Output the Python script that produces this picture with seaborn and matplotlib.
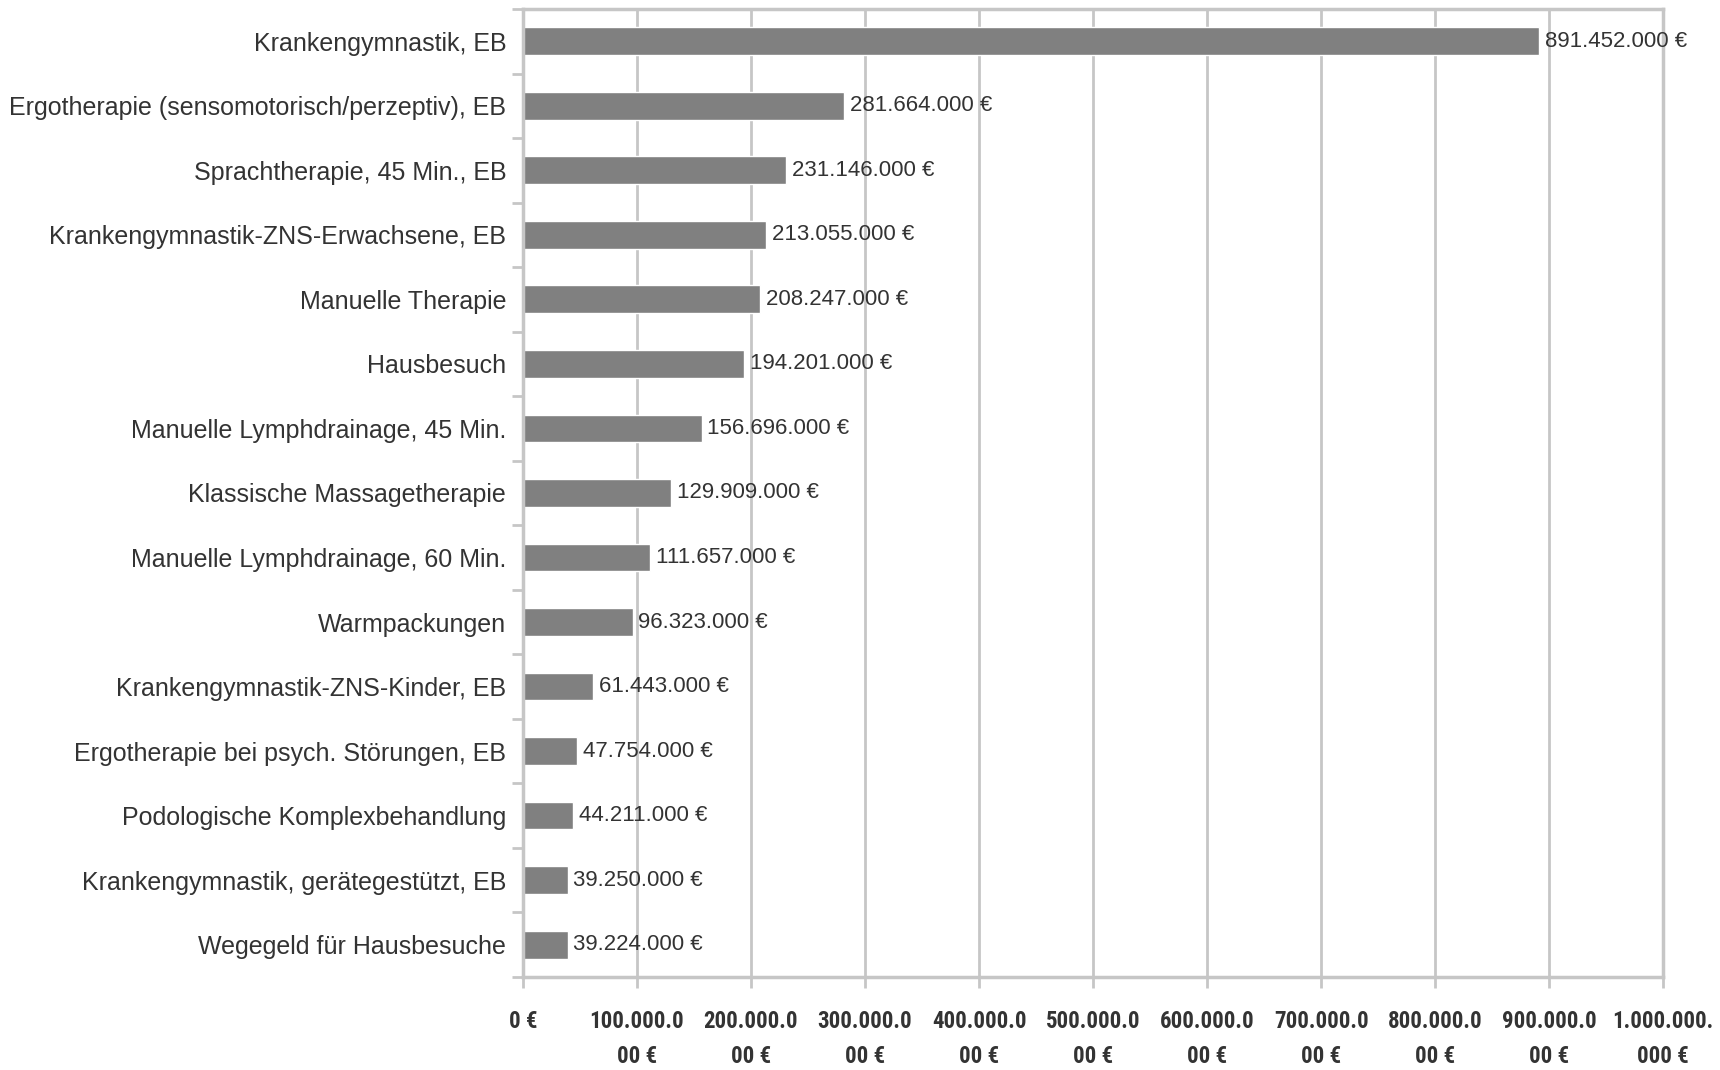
import matplotlib
matplotlib.use("Agg")
import matplotlib.pyplot as plt
import numpy as np
import pandas as pd
import seaborn as sns
from matplotlib import font_manager
from matplotlib.ticker import FixedLocator

categories = [
    "Krankengymnastik, EB",
    "Ergotherapie (sensomotorisch/perzeptiv), EB",
    "Sprachtherapie, 45 Min., EB",
    "Krankengymnastik-ZNS-Erwachsene, EB",
    "Manuelle Therapie",
    "Hausbesuch",
    "Manuelle Lymphdrainage, 45 Min.",
    "Klassische Massagetherapie",
    "Manuelle Lymphdrainage, 60 Min.",
    "Warmpackungen",
    "Krankengymnastik-ZNS-Kinder, EB",
    "Ergotherapie bei psych. Störungen, EB",
    "Podologische Komplexbehandlung",
    "Krankengymnastik, gerätegestützt, EB",
    "Wegegeld für Hausbesuche",
]
values = [891452000, 281664000, 231146000, 213055000, 208247000, 194201000,
          156696000, 129909000, 111657000, 96323000, 61443000, 47754000,
          44211000, 39250000, 39224000]
x_ticks = [0, 100e6, 200e6, 300e6, 400e6, 500e6, 600e6, 700e6, 800e6, 900e6, 1000e6]
x_tick_labels = ["0 €", "100.000.0\n00 €", "200.000.0\n00 €", "300.000.0\n00 €",
                 "400.000.0\n00 €", "500.000.0\n00 €", "600.000.0\n00 €",
                 "700.000.0\n00 €", "800.000.0\n00 €", "900.000.0\n00 €",
                 "1.000.000.\n000 €"]


def euro(v):
    return f"{v:,}".replace(",", ".") + " €"


sns.set_theme(style="white")
plt.rcParams["font.family"] = ["Liberation Sans", "DejaVu Sans"]

# narrow face for the axis numbers, if one is installed
installed = {f.name for f in font_manager.fontManager.ttflist}
narrow = None
for cand in ["Liberation Sans Narrow", "Roboto Condensed", "Open Sans Condensed"]:
    if cand in installed:
        narrow = cand
        break
if narrow:
    tick_font = dict(family=[narrow, "DejaVu Sans"], size=16.5)
else:
    tick_font = dict(family=["DejaVu Sans", "Liberation Sans"], stretch="condensed", size=15.5)

df = pd.DataFrame({"Leistung": categories, "Ausgaben": values})

grid_c = "#c6c6c6"
text_c = "#333333"

fig = plt.figure(figsize=(17.2, 10.7), dpi=100)
ax = fig.add_axes([0.304, 0.087, 0.663, 0.9046])
sns.barplot(data=df, x="Ausgaben", y="Leistung", orient="h", color="#808080",
            width=0.43, saturation=1, ax=ax)

ax.set_xlim(0, 1e9)
ax.set_ylim(len(categories) - 0.5, -0.5)
ax.set_xlabel("")
ax.set_ylabel("")

ax.set_xticks(x_ticks)
ax.set_xticklabels(x_tick_labels, fontweight="bold", color=text_c,
                   linespacing=1.65, **tick_font)
ax.tick_params(axis="x", bottom=True, length=8, width=2, color=grid_c, pad=16)
ax.tick_params(axis="y", length=0, pad=12, labelsize=18, labelcolor=text_c)
ax.yaxis.set_minor_locator(FixedLocator(np.arange(len(categories) + 1) - 0.5))
ax.tick_params(axis="y", which="minor", left=True, length=8, width=2, color=grid_c)

ax.grid(axis="x", color=grid_c, linewidth=2)
ax.set_axisbelow(True)
for side in ["left", "bottom", "top", "right"]:
    ax.spines[side].set_visible(True)
    ax.spines[side].set_color(grid_c)
    ax.spines[side].set_linewidth(2.5)

for i, v in enumerate(values):
    ax.text(v + 5e6, i, euro(v), va="center", ha="left", fontsize=16, color=text_c)

fig.savefig("out.png", dpi=100)
